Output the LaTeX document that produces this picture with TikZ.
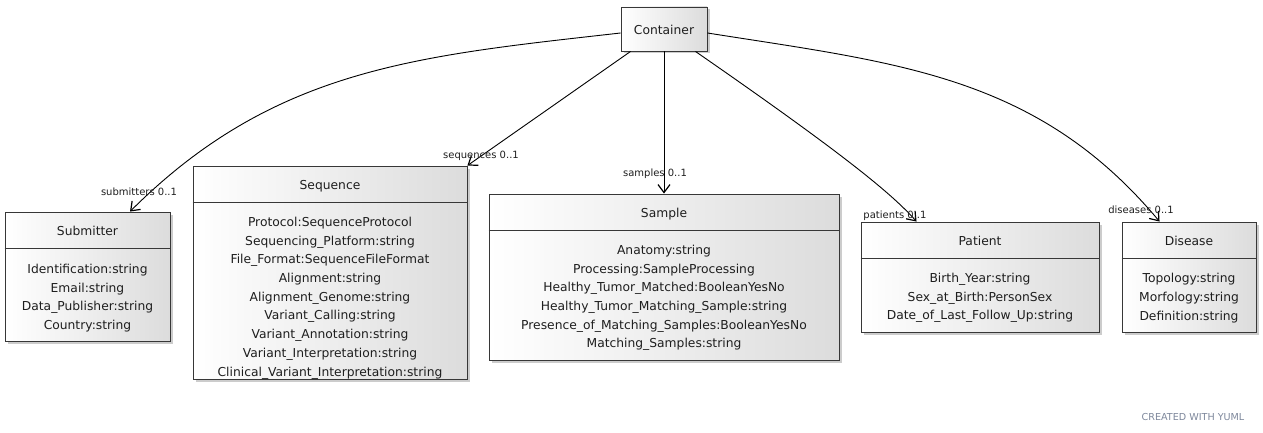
\documentclass[tikz,border=0pt]{standalone}
\usepackage{fontspec}
\setmainfont{DejaVu Sans}
\usetikzlibrary{arrows.meta, positioning, calc, shadows}
\definecolor{mydark}{RGB}{30,30,30}
\definecolor{myborder}{RGB}{55,55,55}
\definecolor{myshade}{RGB}{220,220,220}
\definecolor{mywmark}{RGB}{125,135,155}
\tikzset{
  classbox/.style={rectangle, draw=myborder, line width=0.9pt,
    left color=white, right color=myshade, inner sep=0pt,
    drop shadow={shadow xshift=2.5pt, shadow yshift=-2.5pt, fill=black!50, opacity=0.4}},
  classname/.style={font=\fontsize{12.3}{14}\selectfont, text=mydark, inner sep=0pt,
    text height=8.8pt, text depth=2.4pt},
  attrlist/.style={font=\fontsize{12.3}{18.7}\selectfont, text=mydark, align=center, inner sep=0pt},
  divider/.style={line width=0.9pt, color=myborder},
  assoc/.style={-{Straight Barb[length=8pt, width=12pt, line width=1.2pt]}, line width=0.9pt, color=black},
  rolelabel/.style={font=\fontsize{10}{12}\selectfont, text=mydark, inner sep=0pt,
    text height=7.4pt, text depth=2pt}
}
\begin{document}
\begin{tikzpicture}[x=1pt, y=-1pt]
  \useasboundingbox (0,0) rectangle (1263,433);

  % ── Root class ──────────────────────────────────────────────────────────
  \node[classbox, minimum width=86pt, minimum height=44pt] (cont) at (664,29) {};
  \node[classname] (contname) at ($(cont.center)+(0,2)$) {Container};

  % ── Submitter ───────────────────────────────────────────────────────────
  \node[classbox, minimum width=165pt, minimum height=129pt] (sub) at (87.5,276.5) {};
  \node[classname] (subname) at ($(sub.north)+(0,21)$) {Submitter};
  \draw[divider] ($(sub.north west)+(0,37)$) -- ($(sub.north east)+(0,37)$);
  \node[attrlist] (subattr) at (87.5,298)
    {Identification:string\\Email:string\\Data\_Publisher:string\\Country:string};

  % ── Sequence ────────────────────────────────────────────────────────────
  \node[classbox, minimum width=274pt, minimum height=213pt] (seq) at (330,272.5) {};
  \node[classname] (seqname) at ($(seq.north)+(0,21)$) {Sequence};
  \draw[divider] ($(seq.north west)+(0,36.5)$) -- ($(seq.north east)+(0,36.5)$);
  \node[attrlist] (seqattr) at (330,298)
    {Protocol:SequenceProtocol\\Sequencing\_Platform:string\\File\_Format:SequenceFileFormat\\
     Alignment:string\\Alignment\_Genome:string\\Variant\_Calling:string\\
     Variant\_Annotation:string\\Variant\_Interpretation:string\\Clinical\_Variant\_Interpretation:string};

  % ── Sample ──────────────────────────────────────────────────────────────
  \node[classbox, minimum width=350pt, minimum height=166pt] (sam) at (664,277) {};
  \node[classname] (samname) at ($(sam.north)+(0,21)$) {Sample};
  \draw[divider] ($(sam.north west)+(0,36.5)$) -- ($(sam.north east)+(0,36.5)$);
  \node[attrlist] (samattr) at (664,298)
    {Anatomy:string\\Processing:SampleProcessing\\Healthy\_Tumor\_Matched:BooleanYesNo\\
     Healthy\_Tumor\_Matching\_Sample:string\\Presence\_of\_Matching\_Samples:BooleanYesNo\\
     Matching\_Samples:string};

  % ── Patient ─────────────────────────────────────────────────────────────
  \node[classbox, minimum width=238pt, minimum height=110pt] (pat) at (980,277) {};
  \node[classname] (patname) at ($(pat.north)+(0,21)$) {Patient};
  \draw[divider] ($(pat.north west)+(0,37)$) -- ($(pat.north east)+(0,37)$);
  \node[attrlist] (patattr) at (980,298)
    {Birth\_Year:string\\Sex\_at\_Birth:PersonSex\\Date\_of\_Last\_Follow\_Up:string};

  % ── Disease ─────────────────────────────────────────────────────────────
  \node[classbox, minimum width=134pt, minimum height=110pt] (dis) at (1189,277) {};
  \node[classname] (disname) at ($(dis.north)+(0,21)$) {Disease};
  \draw[divider] ($(dis.north west)+(0,37)$) -- ($(dis.north east)+(0,37)$);
  \node[attrlist] (disattr) at (1189,298)
    {Topology:string\\Morfology:string\\Definition:string};

  % ── Associations ────────────────────────────────────────────────────────
  \draw[assoc] ([yshift=-4pt]cont.west) .. controls (417,56) and (274,68) .. ([xshift=42.5pt]sub.north);
  \draw[assoc] ([xshift=10pt]cont.south west) -- (seq.north east);
  \draw[assoc] (cont.south) -- (sam.north);
  \draw[assoc] ([xshift=-12pt]cont.south east) .. controls (845,155) and (892,194) .. ([xshift=56pt]pat.north west);
  \draw[assoc] ([yshift=-4pt]cont.east) .. controls (897,63) and (1037,75) .. ([xshift=38pt]dis.north west);

  % Role labels — next to the arrow heads
  \node[rolelabel] (sublbl) at (139,193) {submitters 0..1};
  \node[rolelabel] (seqlbl) at (481,156) {sequences 0..1};
  \node[rolelabel] (samlbl) at (655,174) {samples 0..1};
  \node[rolelabel] (patlbl) at (895,216) {patients 0..1};
  \node[rolelabel] (dislbl) at (1141,211) {diseases 0..1};

  % Watermark
  \node[font=\fontsize{9.6}{11}\selectfont, text=mywmark, inner sep=0pt] (yuml) at (1193,417) {CREATED WITH YUML};
\end{tikzpicture}
\end{document}
